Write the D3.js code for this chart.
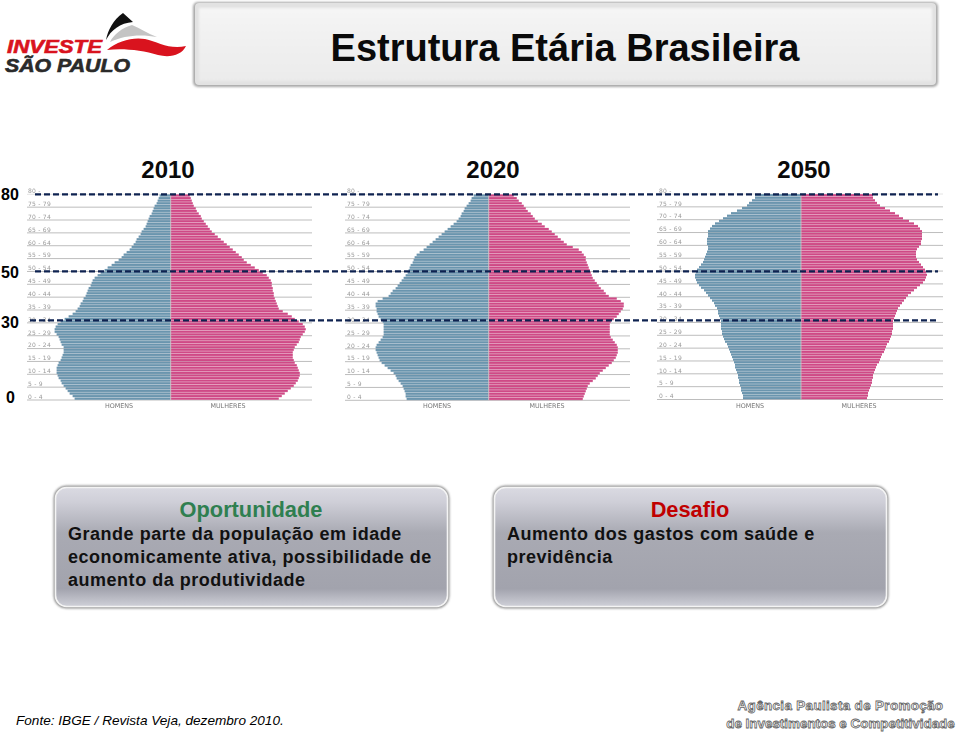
<!DOCTYPE html>
<html><head><meta charset="utf-8">
<script src="https://cdn.jsdelivr.net/npm/d3@7/dist/d3.min.js"></script>
<style>html,body{margin:0;padding:0;background:#fff}svg{display:block}text{font-family:"Liberation Sans",Arial,sans-serif}</style>
</head><body><svg id="c" width="959" height="734"></svg>
<script>
const years = ["2010","2020","2050"];
const ageGroups = ["0 - 4","5 - 9","10 - 14","15 - 19","20 - 24","25 - 29","30 - 34","35 - 39","40 - 44","45 - 49","50 - 54","55 - 59","60 - 64","65 - 69","70 - 74","75 - 79","80 -"];
const sideLabels = ["HOMENS","MULHERES"];
const ageMarks = [80,50,30,0];
const dashedAges = [80,50,31];
const men2010 = [96,98,101,103,105,107,109,110,112,113,114,114,114,113,112,110,109,108,107,107,107,109,110,111,112,114,116,116,115,113,110,106,102,98,95,93,91,90,88,87,85,84,83,82,80,79,78,76,73,70,66,63,59,56,52,49,47,44,41,39,37,35,34,32,30,29,27,25,24,23,22,21,19,18,17,16,14,13,12,11];
const women2010 = [108,111,114,117,120,123,125,127,128,129,129,128,127,126,124,123,122,122,122,123,124,126,128,129,130,132,134,135,134,132,128,124,121,117,112,108,107,106,105,104,103,103,102,102,101,101,100,98,96,92,88,84,80,76,73,71,68,65,62,59,56,53,50,47,44,41,39,37,35,33,31,30,28,26,25,23,22,21,20,19];
const men2020 = [82,83,83,84,85,86,88,90,92,93,95,98,101,104,107,109,110,111,112,113,113,112,110,108,106,105,105,105,105,105,106,108,110,111,112,112,113,113,111,106,100,98,96,93,91,89,87,85,83,81,80,79,78,76,75,74,72,69,65,62,59,56,53,50,47,44,41,38,35,32,30,28,27,25,24,22,20,18,17,15];
const women2020 = [94,95,96,97,98,99,101,104,107,109,111,114,117,120,123,125,127,128,129,129,129,128,126,124,122,121,121,121,121,121,122,125,128,130,132,134,135,135,132,128,120,117,115,112,110,108,106,104,103,102,101,100,99,98,97,97,95,93,90,84,78,75,72,69,66,63,60,56,53,49,46,44,42,39,37,35,33,30,28,25];
const men2050 = [58,58,59,60,60,61,62,62,63,63,64,65,66,66,67,68,69,70,71,72,73,74,76,77,78,79,79,80,80,80,80,81,82,83,83,84,86,87,89,91,93,95,97,100,102,104,105,106,106,105,104,102,100,98,97,96,95,94,93,93,94,94,94,93,93,93,91,89,86,82,78,74,70,64,59,54,52,49,46,46];
const women2050 = [66,67,67,68,69,70,71,71,72,72,73,74,75,76,78,79,80,81,83,84,85,86,88,89,90,91,91,92,92,92,92,93,94,95,96,97,99,101,103,105,107,110,113,116,119,122,124,125,126,125,124,122,120,118,116,115,115,115,116,118,120,120,121,121,121,121,119,117,113,108,102,98,94,89,84,79,76,74,72,72];
const panels = [
  {head:"Oportunidade",color:"#2f7f50",lines:["Grande parte da população em idade","economicamente ativa, possibilidade de","aumento da produtividade"]},
  {head:"Desafio",color:"#c00000",lines:["Aumento dos gastos com saúde e","previdência"]}
];
const title = "Estrutura Etária Brasileira";
const source = "Fonte: IBGE / Revista Veja, dezembro 2010.";
const footer = ["Agência Paulista de Promoção","de Investimentos e Competitividade"];
const footerSpacing = [.36,0];

const svg = d3.select("#c");
const defs = svg.append("defs");
const tg = defs.append("linearGradient").attr("id","tg").attr("x1",0).attr("y1",0).attr("x2",0).attr("y2",1);
[[0,"#f5f5f5"],[1,"#ebebeb"]].forEach(d=>tg.append("stop").attr("offset",d[0]).attr("stop-color",d[1]));
const pg = defs.append("linearGradient").attr("id","pg").attr("x1",0).attr("y1",0).attr("x2",0).attr("y2",1);
[[0,"#dadae2"],[.12,"#cfcfd8"],[.38,"#a9aab3"],[.85,"#a2a3ad"],[1,"#cfd0d8"]].forEach(d=>pg.append("stop").attr("offset",d[0]).attr("stop-color",d[1]));
const blur = defs.append("filter").attr("id","soft").attr("x","-5%").attr("y","-5%").attr("width","110%").attr("height","110%");
blur.append("feGaussianBlur").attr("stdDeviation",1.2);
const fine = defs.append("filter").attr("id","fine").attr("x","-2%").attr("y","-2%").attr("width","104%").attr("height","104%");
fine.append("feGaussianBlur").attr("stdDeviation",.35);

// title box
svg.append("rect").attr("x",193).attr("y",2).attr("width",745).attr("height",85).attr("rx",5).attr("fill","#a8a8a8").attr("filter","url(#soft)");
svg.append("rect").attr("x",195).attr("y",3).attr("width",741).attr("height",82).attr("rx",4).attr("fill","#e2e2e2");
svg.append("rect").attr("x",199).attr("y",8).attr("width",733).attr("height",73).attr("fill","url(#tg)").attr("filter","url(#soft)");
svg.append("text").attr("x",565).attr("y",60.5).attr("text-anchor","middle").attr("font-size",38).attr("font-weight","bold").attr("fill","#0a0a0a").text(title);

// logo
const logo = svg.append("g");
logo.append("path").attr("d","M106 40 C108 30 113 20 123 13 L133 22 C120 23 111 30 106 40Z").attr("fill","#111");
logo.append("path").attr("d","M110 42 C114 34 122 28 132 25 C140 28 148 34 157 37 C142 34 124 35 110 42Z").attr("fill","#c4c4c4");
logo.append("path").attr("d","M107 50 C118 41 132 37 145 39 C158 42 170 50 186 46 C182 55 170 58 158 55 C142 50 122 48 107 50Z").attr("fill","#d9131e");
logo.append("text").attr("x",7).attr("y",52.5).attr("font-size",18).attr("font-weight","bold").attr("font-style","italic").attr("fill","#d9131e").attr("stroke","#d9131e").attr("stroke-width",.6).attr("textLength",95).attr("lengthAdjust","spacingAndGlyphs").text("INVESTE");
logo.append("text").attr("x",5).attr("y",72).attr("font-size",18).attr("font-weight","bold").attr("font-style","italic").attr("fill","#2a2a2a").attr("stroke","#2a2a2a").attr("stroke-width",.6).attr("textLength",125).attr("lengthAdjust","spacingAndGlyphs").text("SÃO PAULO");

// pyramids
const charts = [
  {year:years[0],men:men2010,women:women2010,cx:170.7,left:27,right:312,labelX:28,top:194.3,base:400,yearX:168,hx:119,mx:228},
  {year:years[1],men:men2020,women:women2020,cx:488.7,left:345,right:630,labelX:347,top:194.3,base:400.3,yearX:493,hx:437,mx:547},
  {year:years[2],men:men2050,women:women2050,cx:801,left:657,right:943,labelX:659,top:194,base:399.5,yearX:804,hx:750,mx:859}
];
charts.forEach(c=>{
  const g = svg.append("g").attr("filter","url(#fine)");
  const ages = d3.range(c.men.length);
  const y = d3.scaleBand().domain(ages).range([c.base,c.top]);
  const ly = d3.scaleLinear().domain([0,80]).range([c.base,c.top]);
  const xM = d3.scaleLinear().domain([0,140]).range([c.cx,c.cx-140]);
  const xW = d3.scaleLinear().domain([0,140]).range([c.cx,c.cx+140]);
  ageGroups.forEach((t,i)=>{
    const yy = ly(i*5);
    g.append("line").attr("x1",c.left).attr("x2",c.right).attr("y1",yy).attr("y2",yy).attr("stroke",i===16?"#e4e4e4":"#bdbdbd").attr("stroke-width",1);
    g.append("text").attr("x",c.labelX).attr("y",yy-1.2).style("font-family","'DejaVu Sans'").attr("font-size",6).attr("fill","#9a9a9a").attr("letter-spacing",.25).text(t);
  });
  g.append("g").selectAll("rect").data(c.men).join("rect").attr("x",d=>xM(d)).attr("width",d=>xM(0)-xM(d)).attr("y",(d,i)=>y(i)).attr("height",y.bandwidth()).attr("fill","#8fa9ba").attr("opacity",.6);
  g.append("g").selectAll("rect").data(c.men).join("rect").attr("x",d=>xM(d)).attr("width",d=>xM(0)-xM(d)).attr("y",(d,i)=>y(i)+.25).attr("height",y.bandwidth()-.65).attr("fill","#6b95ae");
  g.append("g").selectAll("rect").data(c.women).join("rect").attr("x",xW(0)).attr("width",d=>xW(d)-xW(0)).attr("y",(d,i)=>y(i)).attr("height",y.bandwidth()).attr("fill","#d887ac").attr("opacity",.6);
  g.append("g").selectAll("rect").data(c.women).join("rect").attr("x",xW(0)).attr("width",d=>xW(d)-xW(0)).attr("y",(d,i)=>y(i)+.25).attr("height",y.bandwidth()-.65).attr("fill","#cf4a86");
  g.append("line").attr("x1",c.cx).attr("x2",c.cx).attr("y1",c.top).attr("y2",c.base).attr("stroke","#c9c9c9").attr("stroke-width",.8);
  [[sideLabels[0],c.hx],[sideLabels[1],c.mx]].forEach(d=>{
    g.append("text").attr("x",d[1]).attr("y",407.5).attr("text-anchor","middle").style("font-family","'DejaVu Sans'").attr("font-size",6.4).attr("fill","#777").text(d[0]);
  });
  svg.append("text").attr("x",c.yearX).attr("y",178).attr("text-anchor","middle").attr("font-size",24).attr("font-weight","bold").attr("fill","#0a0a0a").text(c.year);
});

// dashed reference lines & age labels
const yAge = d3.scaleLinear().domain([0,80]).range([400,194.3]);
dashedAges.forEach((a,i)=>{
  svg.append("line").attr("x1",i===2?30:35).attr("x2",938).attr("y1",yAge(a)).attr("y2",yAge(a)).attr("stroke","#0e2250").attr("stroke-width",2.2).attr("stroke-dasharray","6 3");
});
const labelY = {80:200,50:278,30:328,0:403};
ageMarks.forEach(a=>{
  svg.append("text").attr("x",a===0?10.5:10).attr("y",labelY[a]).attr("text-anchor","middle").attr("font-size",16).attr("font-weight","bold").attr("fill","#000").text(a);
});

// panels
panels.forEach((p,i)=>{
  const x0 = i===0?54:493;
  const g = svg.append("g");
  g.append("rect").attr("x",x0).attr("y",486).attr("width",395).attr("height",122).attr("rx",12).attr("fill","#8a8a8a").attr("stroke","#9a9a9a").attr("filter","url(#soft)");
  g.append("rect").attr("x",x0+1.5).attr("y",487.5).attr("width",392).attr("height",119).attr("rx",11).attr("fill","url(#pg)").attr("stroke","#f4f4f4").attr("stroke-width",1.6);
  g.append("text").attr("x",x0+197).attr("y",517).attr("text-anchor","middle").attr("font-size",21.8).attr("font-weight","bold").attr("fill",p.color).text(p.head);
  p.lines.forEach((t,k)=>{
    g.append("text").attr("x",x0+14).attr("y",540+k*23).attr("font-size",18).attr("font-weight","bold").attr("fill","#111").attr("letter-spacing",.52).text(t);
  });
});

// source & footer
svg.append("text").attr("x",16).attr("y",725).attr("font-size",13.6).attr("font-style","italic").attr("fill","#000").text(source);
footer.forEach((t,i)=>{
  svg.append("text").attr("x",840.5).attr("y",710+i*18).attr("text-anchor","middle").attr("font-size",13.4).attr("font-weight","bold").attr("fill","#fff").attr("stroke","#666").attr("stroke-width",.8).attr("letter-spacing",footerSpacing[i]).text(t);
});
</script></body></html>
